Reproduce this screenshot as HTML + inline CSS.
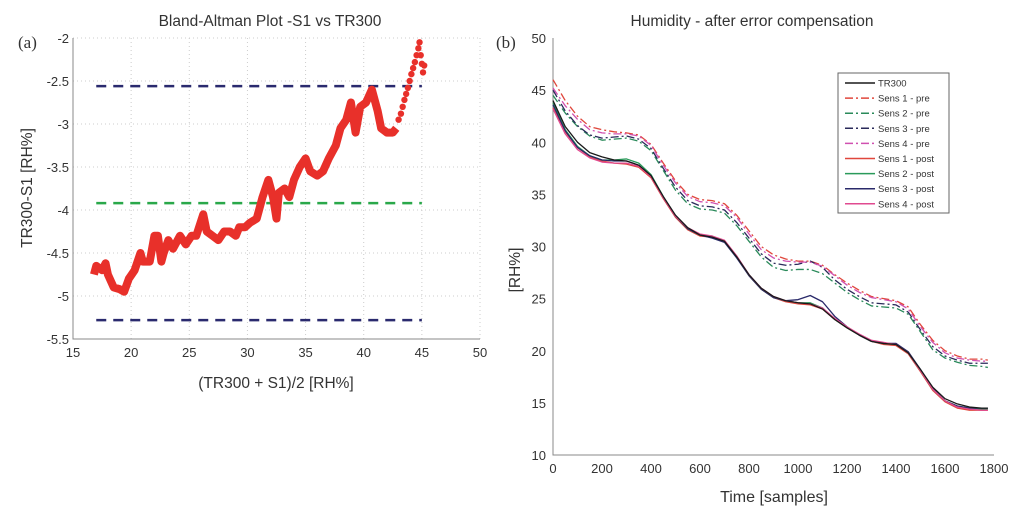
<!DOCTYPE html>
<html><head><meta charset="utf-8"><style>
body{margin:0;background:#fff;width:1024px;height:515px;overflow:hidden;font-family:"Liberation Sans",sans-serif}
svg text{font-family:"Liberation Sans",sans-serif;fill:#333}
</style></head><body>
<svg id="svg" width="1024" height="515" viewBox="0 0 1024 515"></svg>
<script>
// ---- Left chart data ----
const baX=[16.8,17,17.5,17.8,18,18.5,19,19.4,19.8,20.3,20.8,21,21.6,22,22.3,22.6,22.8,23.2,23.6,24.2,24.7,25.2,25.6,26.2,26.5,27,27.5,28,28.5,29,29.3,29.8,30.2,30.8,31.3,31.8,32.2,32.5,32.7,33.2,33.6,34,34.5,35,35.4,36,36.5,37,37.6,38,38.5,38.9,39.3,39.7,40.2,40.7,41.2,41.5,42,42.5,42.8];
const baY=[-4.75,-4.65,-4.7,-4.62,-4.75,-4.9,-4.92,-4.95,-4.8,-4.7,-4.5,-4.6,-4.6,-4.3,-4.3,-4.6,-4.5,-4.35,-4.45,-4.3,-4.4,-4.3,-4.3,-4.05,-4.25,-4.3,-4.35,-4.25,-4.25,-4.3,-4.2,-4.2,-4.15,-4.1,-3.85,-3.65,-3.85,-4.1,-3.8,-3.75,-3.85,-3.65,-3.5,-3.4,-3.55,-3.6,-3.55,-3.4,-3.25,-3.05,-2.95,-2.75,-3.1,-2.8,-2.75,-2.6,-2.85,-3.05,-3.1,-3.1,-3.05];
const dotX=[43.0,43.2,43.35,43.5,43.65,43.8,43.95,44.1,44.25,44.4,44.55,44.7,44.8,44.9,45.0,45.1,45.2];
const dotY=[-2.95,-2.88,-2.8,-2.72,-2.65,-2.58,-2.5,-2.42,-2.35,-2.28,-2.2,-2.12,-2.05,-2.2,-2.3,-2.4,-2.32];
const limits=[-2.56,-3.92,-5.28];
const xTicksL=[15,20,25,30,35,40,45,50];
const yTicksL=[-2,-2.5,-3,-3.5,-4,-4.5,-5,-5.5];
// ---- Right chart data ----
const tSamples=[0,50,100,150,200,250,300,350,400,450,500,550,600,650,700,750,800,850,900,950,1000,1050,1100,1150,1200,1250,1300,1350,1400,1450,1500,1550,1600,1650,1700,1750,1775];
const tr300=[44,41.5,40,39,38.6,38.3,38.2,37.8,36.8,34.8,33,31.8,31.1,30.9,30.5,29,27.3,26,25.2,24.8,24.6,24.5,24,23,22.2,21.5,20.9,20.7,20.6,19.8,18.2,16.5,15.4,14.9,14.6,14.5,14.5];
const pre1=[46,44,42.5,41.5,41.2,41,40.9,40.7,39.8,38,36.3,35,34.5,34.4,34.1,33,31.5,30,29.2,28.8,28.6,28.6,28.2,27.3,26.5,25.8,25.2,25,24.8,24.2,22.5,21,20,19.5,19.2,19.2,19.1];
const pre2=[44.5,42.8,41.5,40.6,40.2,40.3,40.4,40.1,39.2,37.3,35.4,34.1,33.6,33.5,33.2,32,30.5,29,28,27.7,27.8,27.8,27.4,26.5,25.6,24.9,24.3,24.2,24.1,23.5,21.8,20.1,19.3,18.9,18.6,18.5,18.4];
const pre3=[45,43,41.6,40.7,40.4,40.5,40.6,40.3,39.4,37.5,35.7,34.4,33.9,33.8,33.5,32.3,30.8,29.3,28.4,28.2,28.3,28.6,28,26.8,25.9,25.2,24.6,24.5,24.4,23.7,22,20.4,19.5,19.1,18.8,18.8,18.8];
const pre4=[45.2,43.5,42.2,41.2,40.9,40.8,40.8,40.6,39.7,37.8,36.1,34.8,34.3,34.2,33.9,32.8,31.2,29.7,28.9,28.6,28.5,28.5,28.1,27.2,26.3,25.6,25.1,24.9,24.7,24,22.3,20.8,19.8,19.3,19.1,19,19];
const post1=[43.3,41,39.5,38.6,38.2,38,37.9,37.6,36.6,34.6,32.8,31.6,31,30.9,30.5,29,27.2,25.9,25.1,24.7,24.5,24.4,24,23,22.2,21.5,20.9,20.6,20.5,19.7,18,16.2,15.1,14.5,14.3,14.3,14.3];
const post2=[43.8,41.2,39.6,38.7,38.3,38.3,38.4,38,36.9,34.8,32.9,31.7,31.1,31,30.5,29,27.2,25.9,25.1,24.8,24.6,24.6,24.1,23,22.2,21.5,20.9,20.7,20.6,19.8,18.1,16.3,15.2,14.7,14.5,14.4,14.4];
const post3=[43.6,41.1,39.5,38.7,38.3,38.2,38.2,37.8,36.8,34.7,32.9,31.7,31.1,30.8,30.4,28.9,27.2,25.9,25.1,24.8,24.9,25.3,24.7,23.3,22.3,21.5,20.9,20.7,20.7,19.9,18.2,16.4,15.2,14.7,14.5,14.5,14.5];
const post4=[43.2,40.8,39.3,38.5,38.1,38,38,37.7,36.7,34.7,32.9,31.8,31.2,31,30.6,29.1,27.3,26,25.2,24.8,24.6,24.5,24.1,23.1,22.3,21.6,21,20.8,20.6,19.8,18.1,16.3,15.2,14.6,14.4,14.3,14.3];
const xTicksR=[0,200,400,600,800,1000,1200,1400,1600,1800];
const yTicksR=[10,15,20,25,30,35,40,45,50];
const seriesNames=["TR300","Sens 1 - pre","Sens 2 - pre","Sens 3 - pre","Sens 4 - pre","Sens 1 - post","Sens 2 - post","Sens 3 - post","Sens 4 - post"];

const NS="http://www.w3.org/2000/svg";
const svg=document.getElementById('svg');
function mk(tag,attrs,parent,text){const e=document.createElementNS(NS,tag);for(const k in attrs)e.setAttribute(k,attrs[k]);if(text!==undefined)e.textContent=text;(parent||svg).appendChild(e);return e;}

// ===== Left =====
const L={x0:73,x1:480,y0:38,y1:339};
const lx=v=>L.x0+(v-15)/35*(L.x1-L.x0);
const ly=v=>L.y0+(-2-v)/3.5*(L.y1-L.y0);
const gL=mk('g',{});


xTicksL.forEach(v=>{const t=mk('text',{x:lx(v),y:357,'font-size':13,'text-anchor':'middle'},gL,String(v));
 if(v>15&&v<50)mk('line',{x1:lx(v),x2:lx(v),y1:L.y0,y2:L.y1,stroke:'#ccc','stroke-dasharray':'1,3'},gL);});
yTicksL.forEach(v=>{const t=mk('text',{x:L.x0-4,y:ly(v)+5,'font-size':13,'text-anchor':'end'},gL,String(v));
 if(v<-2&&v>-5.5)mk('line',{x1:L.x0,x2:L.x1,y1:ly(v),y2:ly(v),stroke:'#ccc','stroke-dasharray':'1,3'},gL);});
mk('line',{x1:L.x0,x2:L.x1,y1:L.y0,y2:L.y0,stroke:'#ccc','stroke-dasharray':'1,3'},gL);
mk('line',{x1:L.x1,x2:L.x1,y1:L.y0,y2:L.y1,stroke:'#ccc','stroke-dasharray':'1,3'},gL);
mk('polyline',{points:`${L.x0},${L.y0} ${L.x0},${L.y1} ${L.x1},${L.y1}`,fill:'none',stroke:'#888','stroke-width':1},gL);
['#2a2a6e','#2aa84a','#2a2a6e'].forEach((c,i)=>{const l=mk('line',{x1:lx(17),x2:lx(45),y1:ly(limits[i]),y2:ly(limits[i]),stroke:c,'stroke-width':2.5,'stroke-dasharray':'10,7'},gL);
 });
const pl=mk('polyline',{points:baX.map((x,i)=>lx(x)+','+ly(baY[i])).join(' '),fill:'none',stroke:'#e8302a','stroke-width':8,'stroke-linejoin':'round'},gL);

dotX.forEach((x,i)=>{const c=mk('circle',{cx:lx(x),cy:ly(dotY[i]),r:3.2,fill:'#e8302a'},gL);});
let e;
e=mk('text',{x:270,y:26,'font-size':15.5,'text-anchor':'middle'},gL,'Bland-Altman Plot -S1 vs TR300');
e=mk('text',{x:276,y:388,'font-size':15.5,'text-anchor':'middle'},gL,'(TR300 + S1)/2 [RH%]');
e=mk('text',{x:0,y:0,'font-size':15.5,'text-anchor':'middle',transform:'translate(32,188) rotate(-90)'},gL,'TR300-S1 [RH%]');
e=mk('text',{x:18,y:48,'font-size':17,style:'font-family:Liberation Serif,serif'},gL,'(a)');

// ===== Right =====
const R={x0:553,x1:994,y0:38,y1:455};
const rx=v=>R.x0+v/1800*(R.x1-R.x0);
const ry=v=>R.y1-(v-10)/40*(R.y1-R.y0);
const gR=mk('g',{});


mk('polyline',{points:`${R.x0},${R.y0} ${R.x0},${R.y1} ${R.x1},${R.y1}`,fill:'none',stroke:'#888','stroke-width':1},gR);
xTicksR.forEach(v=>{const t=mk('text',{x:rx(v),y:473,'font-size':13,'text-anchor':'middle'},gR,String(v));});
yTicksR.forEach(v=>{const t=mk('text',{x:R.x0-7,y:ry(v)+5,'font-size':13,'text-anchor':'end'},gR,String(v));});
const series=[tr300,pre1,pre2,pre3,pre4,post1,post2,post3,post4];
const colors=['#1a1a1a','#e0473c','#2a8a5a','#2a2a5a','#d050b0','#e0473c','#2a9a5a','#2a2a6a','#e04a90'];
const dashes=['none','8,3,2,3','8,3,2,3','8,3,2,3','8,3,2,3','none','none','none','none'];
[1,2,3,4,5,6,7,8,0].forEach(i=>{const p=mk('polyline',{points:tSamples.map((t,j)=>rx(t)+','+ry(series[i][j])).join(' '),fill:'none',stroke:colors[i],'stroke-width':1.3,'stroke-dasharray':dashes[i],'stroke-linejoin':'round'},gR);
 });
const lg=mk('g',{},gR);


mk('rect',{x:838,y:73,width:111,height:140,fill:'#fff',stroke:'#666','stroke-width':1},lg);
seriesNames.forEach((n,i)=>{const y=83+i*15.1;
 mk('line',{x1:845,x2:875,y1:y,y2:y,stroke:colors[i],'stroke-width':1.5,'stroke-dasharray':dashes[i]},lg);
 const t=mk('text',{x:878,y:y+3.5,'font-size':9.5},lg,n);});
e=mk('text',{x:752,y:26,'font-size':15.5,'text-anchor':'middle'},gR,'Humidity - after error compensation');
e=mk('text',{x:774,y:502,'font-size':16,'text-anchor':'middle'},gR,'Time [samples]');
e=mk('text',{x:0,y:0,'font-size':15.5,'text-anchor':'middle',transform:'translate(520,270) rotate(-90)'},gR,'[RH%]');
e=mk('text',{x:496,y:48,'font-size':17,style:'font-family:Liberation Serif,serif'},gR,'(b)');
</script>
</body></html>
